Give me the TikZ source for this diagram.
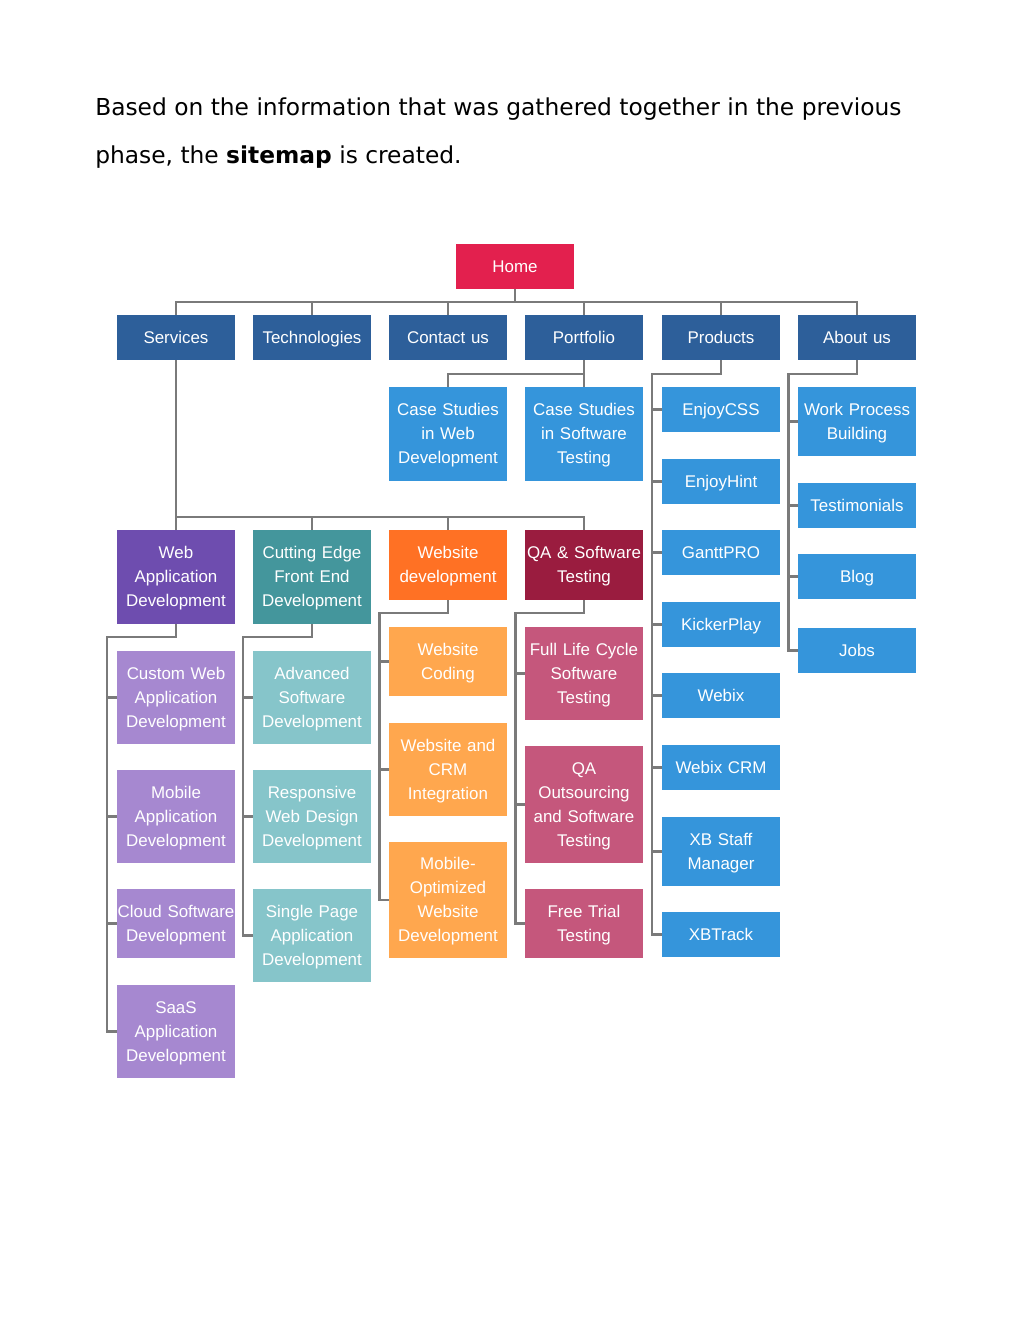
\documentclass[tikz,border=0pt]{standalone}
\usepackage{fontspec}
\setmainfont{Liberation Sans}
\newfontfamily\headfont{DejaVu Sans}
\usepackage{tikz}

\definecolor{homered}{HTML}{E3204E}
\definecolor{navyblue}{HTML}{2D5F9A}
\definecolor{skyblue}{HTML}{3595DB}
\definecolor{darkpurple}{HTML}{6E4DAF}
\definecolor{lightpurple}{HTML}{A688D0}
\definecolor{darkteal}{HTML}{44969C}
\definecolor{lightteal}{HTML}{86C5CA}
\definecolor{darkorange}{HTML}{FF7124}
\definecolor{lightorange}{HTML}{FFA74E}
\definecolor{darkwine}{HTML}{9A1C3F}
\definecolor{rosepink}{HTML}{C5577C}
\definecolor{linegray}{HTML}{7A7A7A}

\newcommand{\boxstrut}{\rule[-2.7pt]{0pt}{14pt}}

\tikzset{
    box/.style={fill=#1, text=white, text width=90pt, minimum height=33.75pt,
        inner xsep=-0.75pt, inner ysep=0pt, align=center, font=\fontsize{12.7}{18}\selectfont,
        execute at begin node=\boxstrut, execute at end node=\boxstrut},
    tall/.style={minimum height=#1*0.75pt},
    link/.style={draw=linegray, line width=1.7pt}
}

\begin{document}
\begin{tikzpicture}[x=0.75pt, y=-0.75pt]
    \useasboundingbox (0,0) rectangle (1024,1325);

    % Intro text
    \node[anchor=west, inner sep=0pt, font=\headfont\fontsize{17.5}{20}\selectfont] (intro1) at (95,109)
        {Based on the information that was gathered together in the previous};
    \node[anchor=west, inner sep=0pt, font=\headfont\fontsize{17.5}{20}\selectfont] (intro2) at (95,157)
        {phase, the \textbf{sitemap} is created.};

    % Define nodes for the diagram
    \node[box=homered] (home) at (515,266.5) {Home};

    \node[box=navyblue] (services) at (176,337.5) {Services};
    \node[box=navyblue] (techno) at (312,337.5) {Technologies};
    \node[box=navyblue] (contact) at (448,337.5) {Contact us};
    \node[box=navyblue] (portfolio) at (584,337.5) {Portfolio};
    \node[box=navyblue] (products) at (721,337.5) {Products};
    \node[box=navyblue] (aboutus) at (857,337.5) {About us};

    \node[box=skyblue, tall=94] (csweb) at (448,434) {Case Studies\\in Web\\Development};
    \node[box=skyblue, tall=94] (cssoft) at (584,434) {Case Studies\\in Software\\Testing};

    \node[box=skyblue] (enjoycss) at (721,409.5) {EnjoyCSS};
    \node[box=skyblue] (enjoyhint) at (721,481.5) {EnjoyHint};
    \node[box=skyblue] (gantt) at (721,552.5) {GanttPRO};
    \node[box=skyblue] (kicker) at (721,624.5) {KickerPlay};
    \node[box=skyblue] (webix) at (721,695.5) {Webix};
    \node[box=skyblue] (webixcrm) at (721,767.5) {Webix CRM};
    \node[box=skyblue, tall=69] (xbstaff) at (721,851.5) {XB Staff\\Manager};
    \node[box=skyblue] (xbtrack) at (721,934.5) {XBTrack};

    \node[box=skyblue, tall=69] (workproc) at (857,421.5) {Work Process\\Building};
    \node[box=skyblue] (testimon) at (857,505.5) {Testimonials};
    \node[box=skyblue] (blog) at (857,576.5) {Blog};
    \node[box=skyblue] (jobs) at (857,650.5) {Jobs};

    \node[box=darkpurple, tall=94] (webapp) at (176,577) {Web\\Application\\Development};
    \node[box=darkteal, tall=94] (cutting) at (312,577) {Cutting Edge\\Front End\\Development};
    \node[box=darkorange, tall=70] (webdev) at (448,565) {Website\\development};
    \node[box=darkwine, tall=70] (qasoft) at (584,565) {QA \& Software\\Testing};

    \node[box=lightpurple, tall=93] (customweb) at (176,697.5) {Custom Web\\Application\\Development};
    \node[box=lightpurple, tall=93] (mobileapp) at (176,816.5) {Mobile\\Application\\Development};
    \node[box=lightpurple, tall=69] (cloudsw) at (176,923.5) {Cloud Software\\Development};
    \node[box=lightpurple, tall=93] (saas) at (176,1031.5) {SaaS\\Application\\Development};

    \node[box=lightteal, tall=93] (advsoft) at (312,697.5) {Advanced\\Software\\Development};
    \node[box=lightteal, tall=93] (responsive) at (312,816.5) {Responsive\\Web Design\\Development};
    \node[box=lightteal, tall=93] (singlepage) at (312,935.5) {Single Page\\Application\\Development};

    \node[box=lightorange, tall=69] (webcoding) at (448,661.5) {Website\\Coding};
    \node[box=lightorange, tall=93] (webcrm) at (448,769.5) {Website and\\CRM\\Integration};
    \node[box=lightorange, tall=116] (mobileopt) at (448,900) {Mobile-\\Optimized\\Website\\Development};

    \node[box=rosepink, tall=93] (fullcycle) at (584,673.5) {Full Life Cycle\\Software\\Testing};
    \node[box=rosepink, tall=117] (qaout) at (584,804.5) {QA\\Outsourcing\\and Software\\Testing};
    \node[box=rosepink, tall=69] (freetrial) at (584,923.5) {Free Trial\\Testing};

    \coordinate (servbus) at (176,517);

    % Draw the connections
    \draw[link] (home.south) -- ++(0,13) -| (services.north);
    \draw[link] (home.south) -- ++(0,13) -| (techno.north);
    \draw[link] (home.south) -- ++(0,13) -| (contact.north);
    \draw[link] (home.south) -- ++(0,13) -| (portfolio.north);
    \draw[link] (home.south) -- ++(0,13) -| (products.north);
    \draw[link] (home.south) -- ++(0,13) -| (aboutus.north);

    \draw[link] (portfolio.south) -- ++(0,14) -| (csweb.north);
    \draw[link] (portfolio.south) -- ++(0,14) -| (cssoft.north);

    \draw[link] (services.south) -- (servbus) -| (webapp.north);
    \draw[link] (services.south) -- (servbus) -| (cutting.north);
    \draw[link] (services.south) -- (servbus) -| (webdev.north);
    \draw[link] (services.south) -- (servbus) -| (qasoft.north);

    % Draw the side branches
    \draw[link] (products.south) -- ++(0,14) -| ([xshift=-7.5pt]enjoycss.west) -- (enjoycss.west);
    \draw[link] (products.south) -- ++(0,14) -| ([xshift=-7.5pt]enjoyhint.west) -- (enjoyhint.west);
    \draw[link] (products.south) -- ++(0,14) -| ([xshift=-7.5pt]gantt.west) -- (gantt.west);
    \draw[link] (products.south) -- ++(0,14) -| ([xshift=-7.5pt]kicker.west) -- (kicker.west);
    \draw[link] (products.south) -- ++(0,14) -| ([xshift=-7.5pt]webix.west) -- (webix.west);
    \draw[link] (products.south) -- ++(0,14) -| ([xshift=-7.5pt]webixcrm.west) -- (webixcrm.west);
    \draw[link] (products.south) -- ++(0,14) -| ([xshift=-7.5pt]xbstaff.west) -- (xbstaff.west);
    \draw[link] (products.south) -- ++(0,14) -| ([xshift=-7.5pt]xbtrack.west) -- (xbtrack.west);

    \draw[link] (aboutus.south) -- ++(0,14) -| ([xshift=-7pt]workproc.west) -- (workproc.west);
    \draw[link] (aboutus.south) -- ++(0,14) -| ([xshift=-7pt]testimon.west) -- (testimon.west);
    \draw[link] (aboutus.south) -- ++(0,14) -| ([xshift=-7pt]blog.west) -- (blog.west);
    \draw[link] (aboutus.south) -- ++(0,14) -| ([xshift=-7pt]jobs.west) -- (jobs.west);

    \draw[link] (webapp.south) -- ++(0,13) -| ([xshift=-7.5pt]customweb.west) -- (customweb.west);
    \draw[link] (webapp.south) -- ++(0,13) -| ([xshift=-7.5pt]mobileapp.west) -- (mobileapp.west);
    \draw[link] (webapp.south) -- ++(0,13) -| ([xshift=-7.5pt]cloudsw.west) -- (cloudsw.west);
    \draw[link] (webapp.south) -- ++(0,13) -| ([xshift=-7.5pt]saas.west) -- (saas.west);

    \draw[link] (cutting.south) -- ++(0,13) -| ([xshift=-7.5pt]advsoft.west) -- (advsoft.west);
    \draw[link] (cutting.south) -- ++(0,13) -| ([xshift=-7.5pt]responsive.west) -- (responsive.west);
    \draw[link] (cutting.south) -- ++(0,13) -| ([xshift=-7.5pt]singlepage.west) -- (singlepage.west);

    \draw[link] (webdev.south) -- ++(0,13) -| ([xshift=-7pt]webcoding.west) -- (webcoding.west);
    \draw[link] (webdev.south) -- ++(0,13) -| ([xshift=-7pt]webcrm.west) -- (webcrm.west);
    \draw[link] (webdev.south) -- ++(0,13) -| ([xshift=-7pt]mobileopt.west) -- (mobileopt.west);

    \draw[link] (qasoft.south) -- ++(0,13) -| ([xshift=-7pt]fullcycle.west) -- (fullcycle.west);
    \draw[link] (qasoft.south) -- ++(0,13) -| ([xshift=-7pt]qaout.west) -- (qaout.west);
    \draw[link] (qasoft.south) -- ++(0,13) -| ([xshift=-7pt]freetrial.west) -- (freetrial.west);
\end{tikzpicture}
\end{document}
